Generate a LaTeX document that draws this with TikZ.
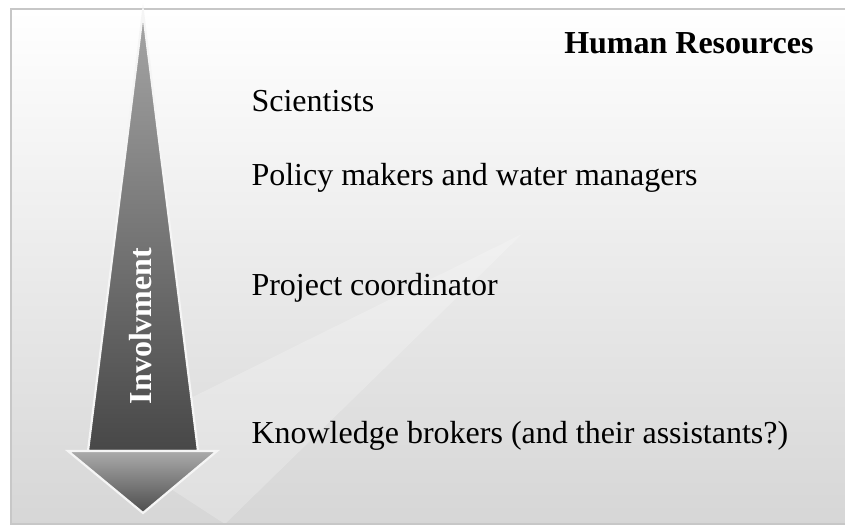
\documentclass[tikz,border=0pt]{standalone}
\usepackage{fontspec}
\setmainfont{Liberation Serif}

\begin{document}
\begin{tikzpicture}[x=1pt,y=-1pt,
    role/.style={anchor=base west, font=\fontsize{32}{38}\selectfont},
    arrowpart/.style={draw=white!96!black, line width=2.2pt, line join=miter}]
    \useasboundingbox (0,0) rectangle (845,527);

    % Background panel
    \shade[top color=white, bottom color=black!16] (11,9) rectangle (845,524);
    \fill[white, opacity=0.22] (522,234) -- (100,443) -- (225,524) -- cycle;
    \draw[black!22, line width=2.5pt] (846,9) -- (11,9) -- (11,524) -- (846,524);

    % Involvement arrow
    \shade[arrowpart, shading angle=45, top color=black!35, bottom color=black!72]
        (143,12) -- (198,451) -- (88,451) -- cycle;
    \shade[arrowpart, shading angle=45, top color=black!33, bottom color=black!70]
        (68,451) -- (217,451) -- (143,513) -- cycle;
    \node[rotate=90, white, font=\fontsize{32}{38}\selectfont\bfseries] (inv) at (141,326) {Involvment};

    % Labels
    \node[role, anchor=base east, font=\fontsize{32}{38}\selectfont\bfseries] (title) at (817,53) {Human Resources};
    \node[role] (sci) at (248,111) {Scientists};
    \node[role] (pol) at (248,185) {Policy makers and water managers};
    \node[role] (coord) at (248,295) {Project coordinator};
    \node[role] (kb) at (248,443) {Knowledge brokers (and their assistants?)};
\end{tikzpicture}
\end{document}
